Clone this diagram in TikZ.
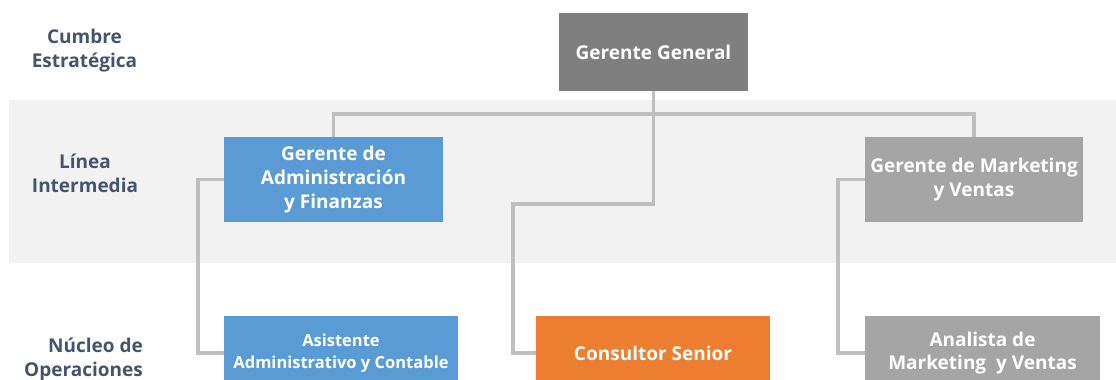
\documentclass[tikz,border=0pt]{standalone}
\usepackage{fontspec}
\setmainfont{Open Sans}
\definecolor{bandgray}{HTML}{F2F2F2}
\definecolor{linegray}{HTML}{BFBFBF}
\definecolor{topgray}{HTML}{7F7F7F}
\definecolor{midgray}{HTML}{A5A5A5}
\definecolor{boxblue}{HTML}{5B9BD5}
\definecolor{boxorange}{HTML}{ED7D31}
\definecolor{slate}{HTML}{44546A}
\tikzset{
  orgbox/.style={rectangle, inner sep=0pt, align=center, text=white,
    font=\bfseries\fontsize{19}{24}\selectfont},
  lowbox/.style={orgbox, minimum width=234pt, minimum height=74pt,
    font=\bfseries\fontsize{19}{22.5}\selectfont},
  smalltext/.style={font=\bfseries\fontsize{16.5}{22}\selectfont},
  levellabel/.style={inner sep=0pt, text=slate,
    font=\bfseries\fontsize{19}{24}\selectfont},
  conn/.style={draw=linegray, line width=3.5pt, line join=miter}
}
\begin{document}
\begin{tikzpicture}[x=1pt, y=-1pt]
\useasboundingbox (0,0) rectangle (1116,380);
\begin{scope}
\clip (0,0) rectangle (1116,380);
% middle band
\fill[bandgray] (9,100) rectangle (1116,263);

% boxes
\node[orgbox, fill=topgray, minimum width=189pt, minimum height=78pt] (gg) at (653.5,52) {Gerente General};
\node[orgbox, fill=boxblue, minimum width=219pt, minimum height=85pt] (adm) at (333.5,179.5) {Gerente de\\Administración\\y Finanzas};
\node[orgbox, fill=midgray, minimum width=218pt, minimum height=85pt] (mkt) at (974,179.5) {Gerente de Marketing\\y Ventas};
\node[lowbox, smalltext, fill=boxblue] (asis) at (341,353) {Asistente\\Administrativo y Contable};
\node[lowbox, fill=boxorange] (cons) at (653,353) {Consultor Senior};
\node[lowbox, fill=midgray, minimum width=235pt] (ana) at (982.5,353) {Analista de\\Marketing \ y Ventas};

% level labels
\node[levellabel, align=center] (lcumbre) at (84.5,51) {Cumbre\\Estratégica};
\node[levellabel, align=center] (llinea) at (85,173) {Línea\\Intermedia};
\node[levellabel, align=right, anchor=east] (lnucleo) at (143,359) {Núcleo de\\Operaciones};

% routing points
\coordinate (bus) at (653.5,114);
\coordinate (jog) at (513,204);
\coordinate (ra) at (198,0);
\coordinate (rm) at (838,0);

% connectors
\draw[conn] (gg.south) -- (bus);
\draw[conn] (adm.north) |- (mkt.north |- bus) -- (mkt.north);
\draw[conn] (bus) |- (jog) |- (cons.west);
\draw[conn] (adm.west) -| (ra |- asis.west) -- (asis.west);
\draw[conn] (mkt.west) -| (rm |- ana.west) -- (ana.west);
\end{scope}
\end{tikzpicture}
\end{document}
